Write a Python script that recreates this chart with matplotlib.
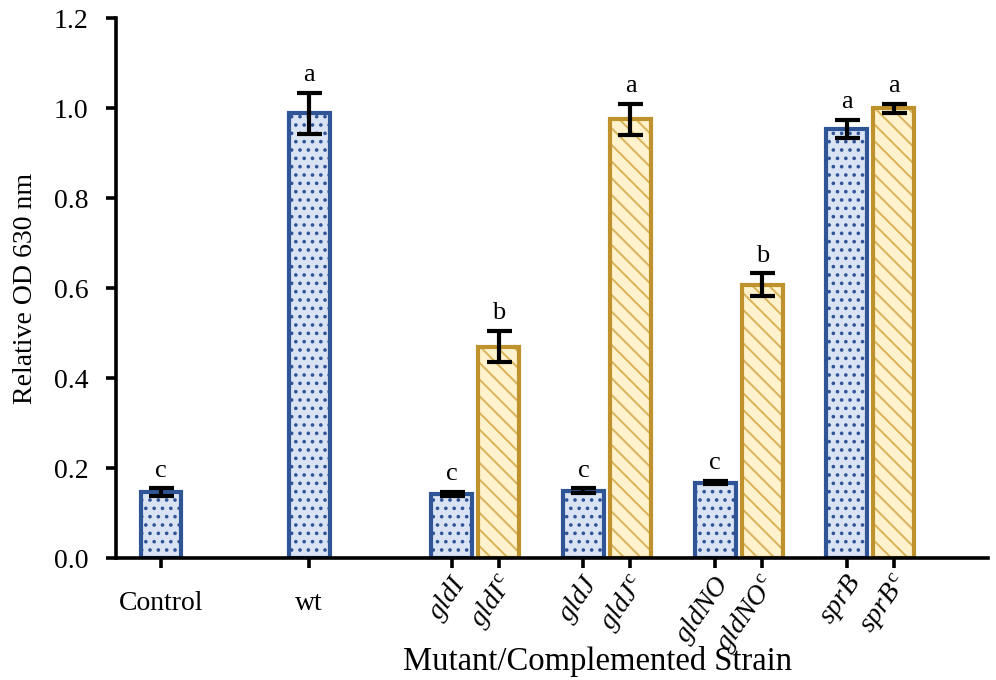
import matplotlib.pyplot as plt
from matplotlib.ticker import FormatStrFormatter

plt.rcParams['font.family'] = ['Liberation Serif', 'DejaVu Serif']
plt.rcParams['mathtext.fontset'] = 'custom'
plt.rcParams['mathtext.rm'] = 'Liberation Serif'
plt.rcParams['mathtext.it'] = 'Liberation Serif:italic'
plt.rcParams['hatch.linewidth'] = 1.4

strains = ['Control', 'wt', r'$\mathit{gldI}$', r'$\mathit{gldI}^{\mathrm{c}}$',
           r'$\mathit{gldJ}$', r'$\mathit{gldJ}^{\mathrm{c}}$',
           r'$\mathit{gldNO}$', r'$\mathit{gldNO}^{\mathrm{c}}$',
           r'$\mathit{sprB}$', r'$\mathit{sprB}^{\mathrm{c}}$']
od_values = [0.147, 0.988, 0.143, 0.470, 0.150, 0.975, 0.168, 0.608, 0.953, 1.000]
od_errors = [0.008, 0.045, 0.005, 0.035, 0.005, 0.035, 0.004, 0.025, 0.020, 0.010]
letters = ['c', 'a', 'c', 'b', 'c', 'a', 'c', 'b', 'a', 'a']
complemented = [False, False, False, True, False, True, False, True, False, True]

# bar centres (uneven spacing as in the original layout)
positions = [0, 3.15, 6.18, 7.18, 8.98, 9.98, 11.78, 12.78, 14.58, 15.58]

blue_edge = '#2f5597'
blue_fill = '#dae3f3'
gold_edge = '#c0922e'
gold_hatch = '#d9b25a'
gold_fill = '#fff2cc'

fig = plt.figure(figsize=(9.96, 6.8), dpi=100)
ax = fig.add_axes([0.1165, 0.179, 0.875, 0.7945])

for x, v, e, comp in zip(positions, od_values, od_errors, complemented):
    if comp:
        ax.bar(x, v, width=0.87, color=gold_fill, edgecolor=gold_hatch,
               linewidth=0, hatch='\\\\', zorder=2)
        ax.bar(x, v, width=0.87, color='none', edgecolor=gold_edge,
               linewidth=3, zorder=2)
    else:
        ax.bar(x, v, width=0.87, color=blue_fill, edgecolor=blue_edge,
               linewidth=0, hatch='..', zorder=2)
        ax.bar(x, v, width=0.87, color='none', edgecolor=blue_edge,
               linewidth=3, zorder=2)
    ax.errorbar(x, v, yerr=e, fmt='none', ecolor='black', elinewidth=3,
                capsize=9, capthick=3, zorder=3)

for x, v, e, t in zip(positions, od_values, od_errors, letters):
    ax.text(x, v + e + 0.015, t, ha='center', va='bottom', fontsize=19)

ax.set_xlim(-0.956, 17.57)
ax.set_ylim(0, 1.2)
ax.set_yticks([0, 0.2, 0.4, 0.6, 0.8, 1.0, 1.2])
ax.yaxis.set_major_formatter(FormatStrFormatter('%.1f'))
ax.set_xticks(positions)
ax.set_xticklabels([])

for i, (x, lab) in enumerate(zip(positions, strains)):
    if i < 2:
        ax.text(x, -0.06, lab, ha='center', va='top', fontsize=20,
                transform=ax.get_xaxis_transform())
    else:
        ax.text(x - 0.05, -0.022, lab, ha='right', va='top', fontsize=20,
                rotation=55, rotation_mode='anchor',
                transform=ax.get_xaxis_transform())

for side in ['top', 'right']:
    ax.spines[side].set_visible(False)
for side in ['left', 'bottom']:
    ax.spines[side].set_linewidth(2.6)
ax.tick_params(axis='both', width=2.6, length=7, labelsize=20)
ax.tick_params(axis='y', pad=13)

ax.set_ylabel('Relative OD 630 nm', fontsize=20, labelpad=11)
fig.text(0.5995, 0.004, 'Mutant/Complemented Strain', ha='center', va='bottom', fontsize=23.5)

fig.savefig('out.png', dpi=100)
